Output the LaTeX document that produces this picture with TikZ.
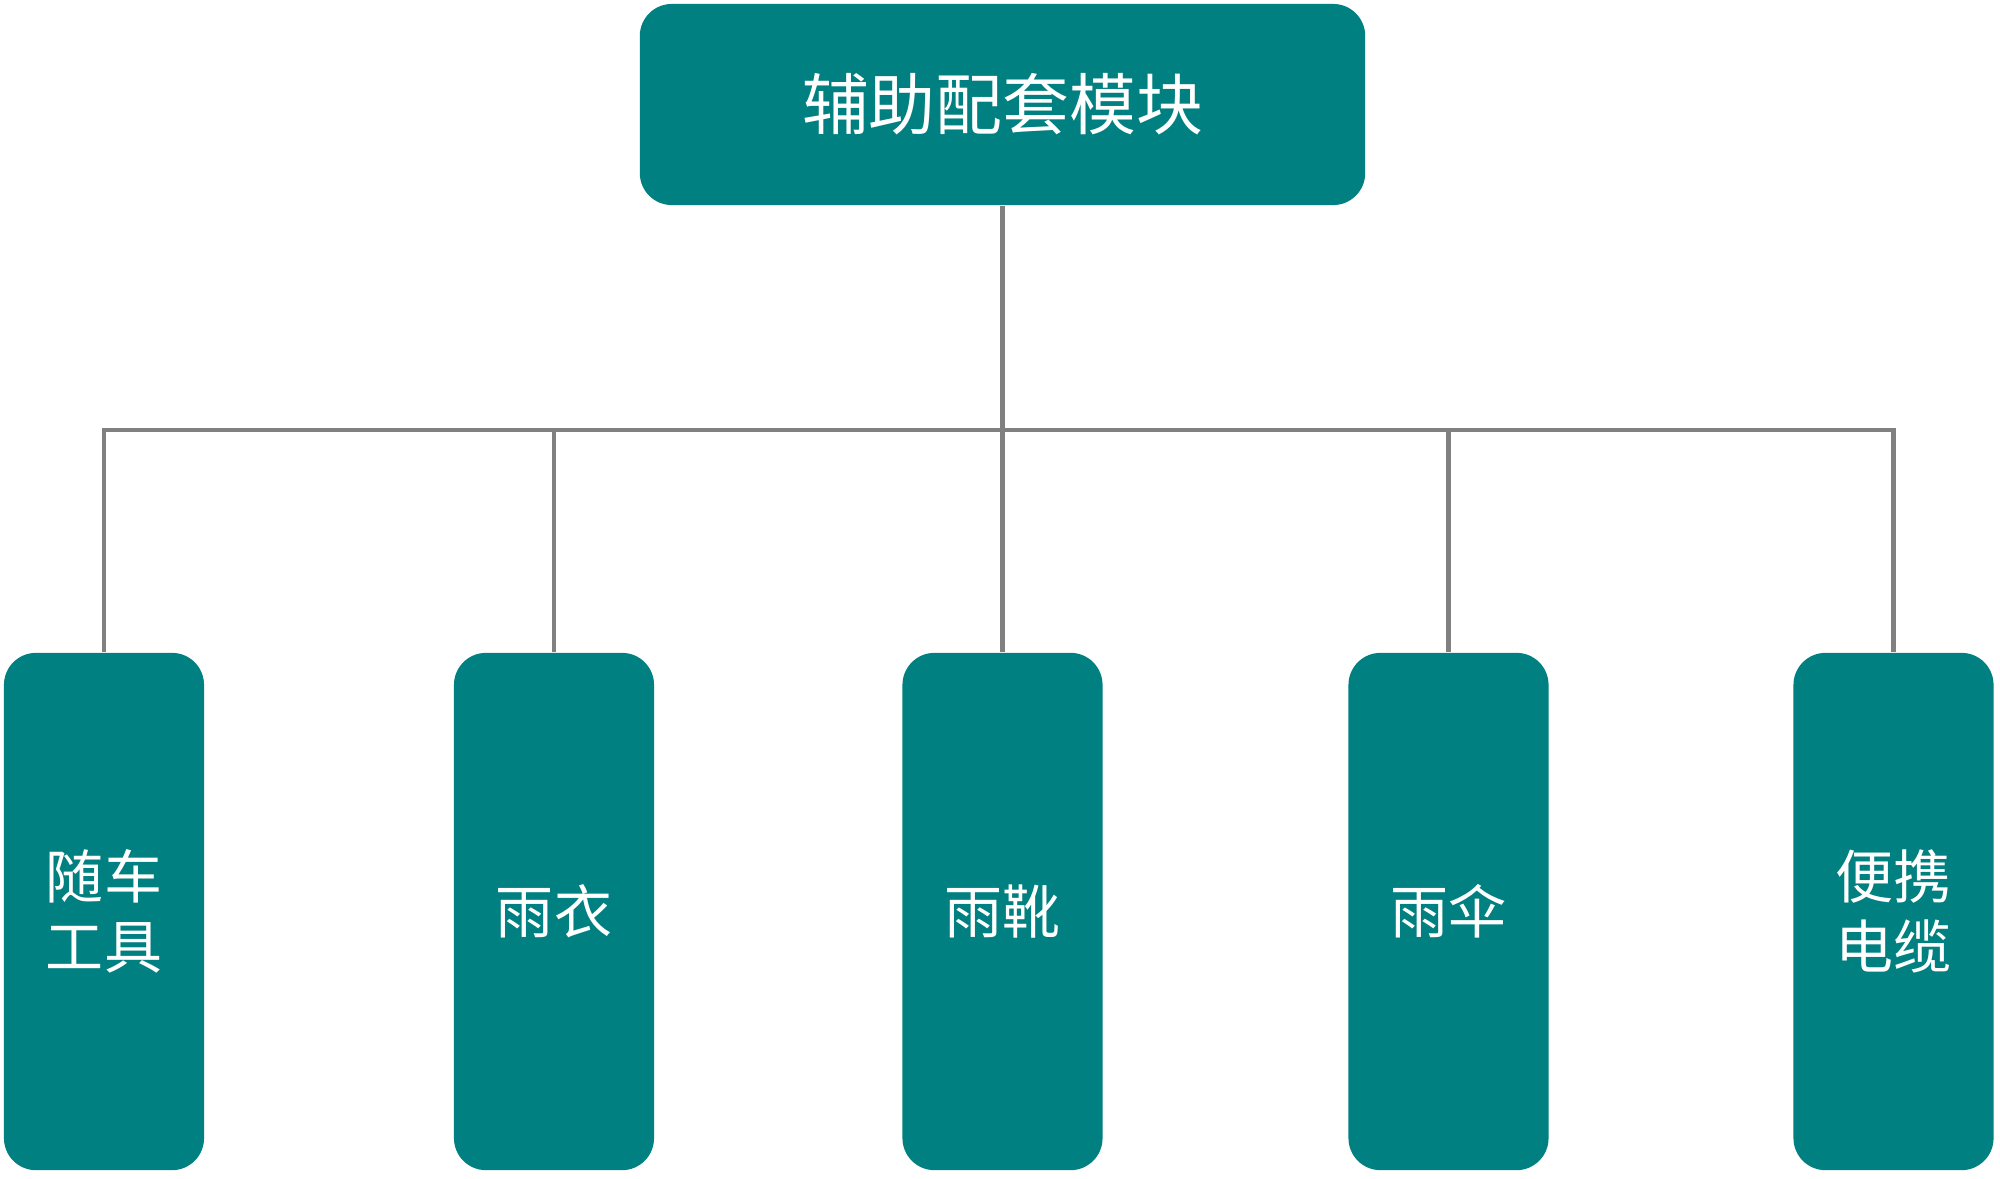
\documentclass[tikz,border=0pt]{standalone}
\usepackage{fontspec}
\setmainfont{Noto Sans CJK SC}
\usetikzlibrary{positioning}
\definecolor{tealbox}{HTML}{008080}
\definecolor{linkgray}{HTML}{808080}

\begin{document}
\begin{tikzpicture}[
    x=0.01cm, y=-0.01cm,
    topbox/.style={rectangle, rounded corners=0.32cm, fill=tealbox, text=white, minimum width=7.25cm, minimum height=2.01cm, font=\fontsize{19}{23}\selectfont},
    itembox/.style={rectangle, rounded corners=0.32cm, fill=tealbox, text=white, minimum width=2.0cm, minimum height=5.17cm, align=center, font=\fontsize{16.5}{20}\selectfont},
    link/.style={draw=linkgray, line width=1.2pt}
]
\useasboundingbox (0,0) rectangle (2000,1178);

\node[topbox] (aux) at (1002.5,104.5) {辅助配套模块};

\node[itembox] (tools)  at (104,911.5)    {随车\\工具};
\node[itembox] (coat)   at (554,911.5)    {雨衣};
\node[itembox] (boots)  at (1002.5,911.5) {雨靴};
\node[itembox] (umbr)   at (1448.5,911.5) {雨伞};
\node[itembox] (cable)  at (1893.5,911.5) {便携\\电缆};

\coordinate (bus) at (1002.5,430);

\draw[link] (aux.south) -- (aux.south |- bus);
\draw[link] (tools.north) -- (tools.north |- bus) -- (cable.north |- bus) -- (cable.north);
\foreach \n in {coat,boots,umbr}
    \draw[link] (\n.north) -- (\n.north |- bus);
\end{tikzpicture}
\end{document}
